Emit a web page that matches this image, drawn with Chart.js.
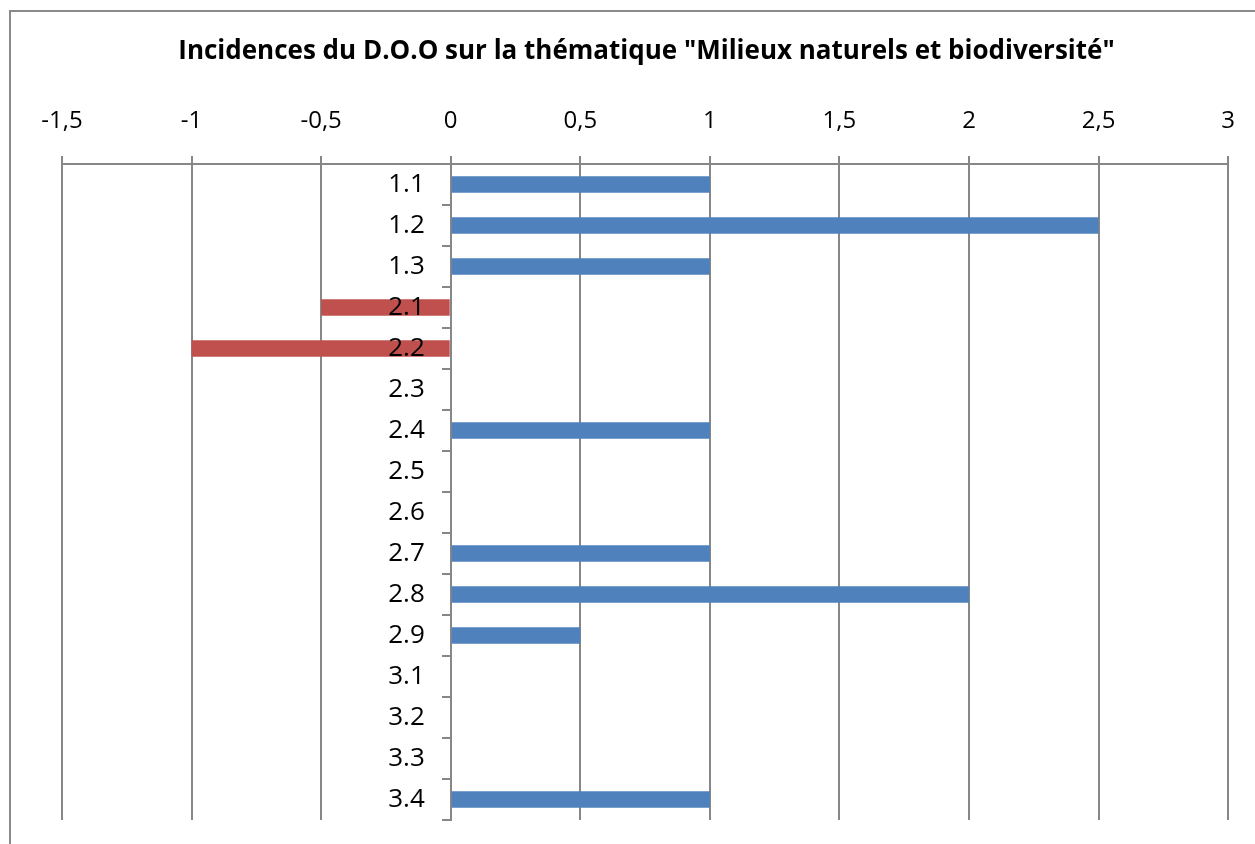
<!DOCTYPE html>
<html>
<head>
<meta charset="utf-8">
<script src="https://cdn.jsdelivr.net/npm/chart.js@4"></script>
<style>
  html, body { margin: 0; padding: 0; background: #fff; }
  #wrap { position: relative; width: 1255px; height: 844px; overflow: hidden; }
  #frame { position: absolute; left: 9px; top: 10px; width: 1300px; height: 900px; border: 2px solid #8a8a8a; box-sizing: border-box; }
  canvas { position: absolute; left: 0; top: 0; }
</style>
</head>
<body>
<div id="wrap">
  <div id="frame"></div>
  <canvas id="c" width="1255" height="844"></canvas>
</div>
<script>
const titleText = 'Incidences du D.O.O sur la thématique "Milieux naturels et biodiversité"';
const categories = ['1.1','1.2','1.3','2.1','2.2','2.3','2.4','2.5','2.6','2.7','2.8','2.9','3.1','3.2','3.3','3.4'];
const values = [1, 2.5, 1, -0.5, -1, 0, 1, 0, 0, 1, 2, 0.5, 0, 0, 0, 1];
const xMin = -1.5, xMax = 3, xStep = 0.5;
// x value at which the right edge of the category labels sits (labels left of the 0 axis)
const labelAnchor = -0.1;

const BLUE = '#4f81bd', RED = '#c0504d', GRID = '#878787';
const FONT = "'Open Sans', 'DejaVu Sans', sans-serif";

new Chart(document.getElementById('c'), {
  type: 'bar',
  data: {
    labels: categories,
    datasets: [{
      data: values,
      yAxisID: 'y',
      backgroundColor: values.map(v => v < 0 ? RED : BLUE),
      borderWidth: 0,
      barPercentage: 0.4,
      categoryPercentage: 1.0
    }]
  },
  options: {
    indexAxis: 'y',
    responsive: false,
    animation: false,
    layout: { padding: { left: 62, right: 24, top: 0, bottom: 24 } },
    plugins: {
      legend: { display: false },
      tooltip: { enabled: false },
      title: {
        display: true,
        text: titleText,
        color: '#000',
        font: { family: FONT, size: 26, weight: 'bold', lineHeight: 1.2 },
        padding: { top: 36, bottom: 0 }
      }
    },
    scales: {
      x: {
        position: 'top',
        min: xMin,
        max: xMax,
        ticks: {
          stepSize: xStep,
          color: '#000',
          font: { family: FONT, size: 24 },
          padding: 20,
          maxRotation: 0,
          callback: v => String(v).replace('.', ',')
        },
        grid: { color: GRID, lineWidth: 2, tickLength: 8, drawTicks: true },
        border: { display: true, color: GRID, width: 2 },
        afterFit: s => { s.height = 96.8; }
      },
      y: {
        type: 'category',
        position: { x: 0 },
        offset: true,
        ticks: { display: false, padding: 0 },
        grid: { offset: true, drawOnChartArea: false, drawTicks: true, tickLength: 8, color: GRID, lineWidth: 2 },
        border: { display: true, color: GRID, width: 2 }
      },
      y2: {
        type: 'category',
        axis: 'y',
        labels: categories,
        position: { x: labelAnchor },
        offset: true,
        ticks: {
          z: 1,
          color: '#000',
          font: { family: FONT, size: 26 },
          padding: 0
        },
        grid: { display: false, drawTicks: false },
        border: { display: false }
      }
    }
  }
});
</script>
</body>
</html>
